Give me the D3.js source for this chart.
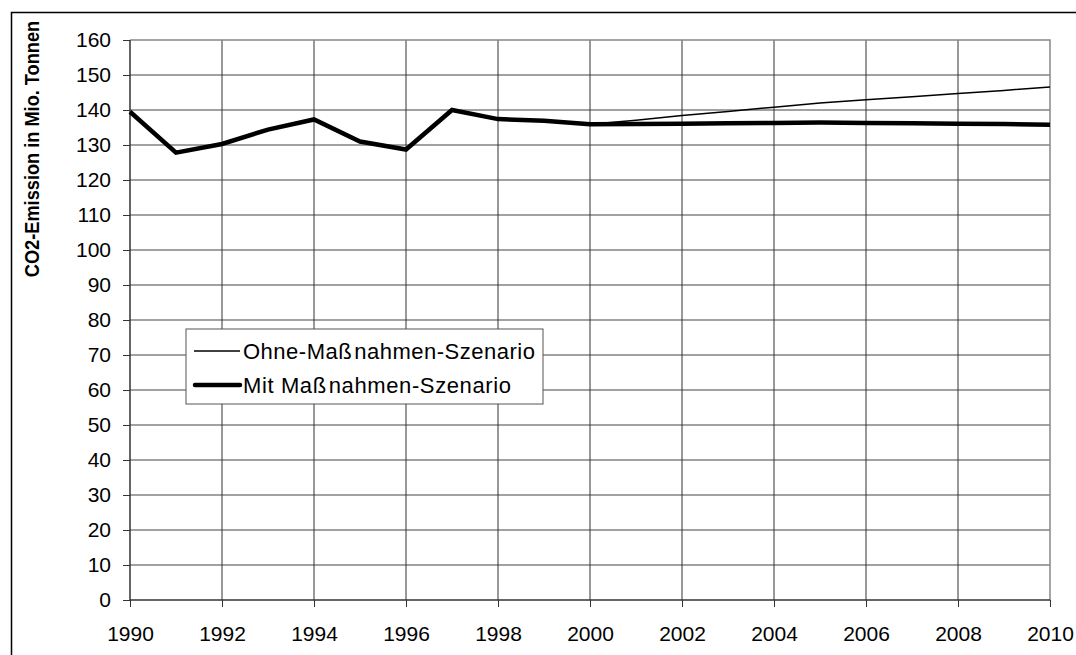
<!DOCTYPE html>
<html>
<head>
<meta charset="utf-8">
<script src="https://cdn.jsdelivr.net/npm/d3@7"></script>
<style>
  body { margin: 0; background: #fff; }
  svg { display: block; font-family: "Liberation Sans", Arial, sans-serif; }
</style>
</head>
<body>
<svg id="chart" width="1076" height="655"></svg>
<script>
// data
const years = d3.range(1990, 2011);
const mitValues = [139.5, 127.8, 130.3, 134.4, 137.3, 131, 128.7, 140, 137.4, 136.9, 135.9,
  136, 136.1, 136.2, 136.3, 136.4, 136.3, 136.2, 136.1, 136, 135.8];
const ohneYears = d3.range(2000, 2011);
const ohneValues = [135.9, 137.1, 138.4, 139.6, 140.8, 142, 142.9, 143.8, 144.7, 145.6, 146.6];
const yTicks = d3.range(0, 161, 10);
const xTicks = d3.range(1990, 2011, 2);
const legendItems = [
  { head: "Ohne-Maß", tail: "nahmen-Szenario", width: 1.5, len: 292 },
  { head: "Mit Maß", tail: "nahmen-Szenario", width: 4.5, len: 268 }
];

const svg = d3.select("#chart");
const plot = { left: 130, right: 1050, top: 40, bottom: 600 };

const x = d3.scaleLinear().domain([1990, 2010]).range([plot.left, plot.right]);
const y = d3.scaleLinear().domain([0, 160]).range([plot.bottom, plot.top]);

// outer frame, runs off the right and bottom edge
svg.append("rect")
  .attr("x", 11.5).attr("y", 12.5)
  .attr("width", 1100).attr("height", 700)
  .attr("fill", "none").attr("stroke", "#000").attr("stroke-width", 1.5);

// grid
svg.append("g")
  .selectAll("line")
  .data(yTicks.filter(d => d > 0 && d < 160))
  .join("line")
  .attr("x1", plot.left).attr("x2", plot.right)
  .attr("y1", d => y(d)).attr("y2", d => y(d))
  .attr("stroke", "#444").attr("stroke-width", 1);

svg.append("g")
  .selectAll("line")
  .data(xTicks.filter(d => d > 1990 && d < 2010))
  .join("line")
  .attr("x1", d => x(d)).attr("x2", d => x(d))
  .attr("y1", plot.top).attr("y2", plot.bottom)
  .attr("stroke", "#333").attr("stroke-width", 1);

// top and right border of plot area
svg.append("path")
  .attr("d", `M${plot.left},${plot.top}H${plot.right}V${plot.bottom}`)
  .attr("fill", "none").attr("stroke", "#888").attr("stroke-width", 1.5);

// axes
const yAxis = svg.append("g")
  .attr("transform", `translate(${plot.left},0)`)
  .call(d3.axisLeft(y).tickValues(yTicks).tickSize(7).tickPadding(12));
const xAxis = svg.append("g")
  .attr("transform", `translate(0,${plot.bottom})`)
  .call(d3.axisBottom(x).tickValues(xTicks).tickFormat(d3.format("d")).tickSize(7).tickPadding(19));

[yAxis, xAxis].forEach(a => {
  a.select(".domain").attr("stroke", "#333").attr("stroke-width", 1.5);
  a.selectAll(".tick line").attr("stroke", "#333");
  a.selectAll(".tick text")
    .attr("fill", "#000")
    .style("font-size", "21px")
    .style("font-family", "'Liberation Sans', Arial, sans-serif");
});
yAxis.select(".domain").attr("d", `M0,${plot.top}V${plot.bottom}`);
xAxis.select(".domain").attr("d", `M${plot.left},0H${plot.right}`);

// y axis title (glyphs a bit taller than the run length suggests)
svg.append("text")
  .attr("transform", "translate(39,149) rotate(-90) scale(1,1.12)")
  .attr("text-anchor", "middle")
  .style("font-size", "18.2px")
  .style("font-weight", "bold")
  .text("CO2-Emission in Mio. Tonnen");

// lines
const line = d3.line().x(d => x(d[0])).y(d => y(d[1]));

svg.append("path")
  .datum(ohneYears.map((yr, i) => [yr, ohneValues[i]]))
  .attr("d", line)
  .attr("fill", "none").attr("stroke", "#000").attr("stroke-width", 1.5);

svg.append("path")
  .datum(years.map((yr, i) => [yr, mitValues[i]]))
  .attr("d", line)
  .attr("fill", "none").attr("stroke", "#000").attr("stroke-width", 4.5)
  .attr("stroke-linejoin", "miter");

// legend
const legend = svg.append("g").attr("transform", "translate(186,329)");
legend.append("rect")
  .attr("width", 357).attr("height", 75)
  .attr("fill", "#fff").attr("stroke", "#555").attr("stroke-width", 1);

const li = legend.selectAll("g.item")
  .data(legendItems)
  .join("g")
  .attr("class", "item")
  .attr("transform", (d, i) => `translate(0,${22 + i * 34})`);
li.append("line")
  .attr("x1", d => d.width > 2 ? 9 : 8).attr("x2", 54)
  .attr("stroke", "#000")
  .attr("stroke-width", d => d.width)
  .attr("stroke-linecap", d => d.width > 2 ? "round" : "butt");
const lt = li.append("text")
  .attr("x", 57).attr("dy", "0.35em")
  .attr("textLength", d => d.len)
  .attr("lengthAdjust", "spacing")
  .style("font-size", "22px");
lt.append("tspan").text(d => d.head);
lt.append("tspan").attr("dx", 2).text(d => d.tail);
</script>
</body>
</html>
